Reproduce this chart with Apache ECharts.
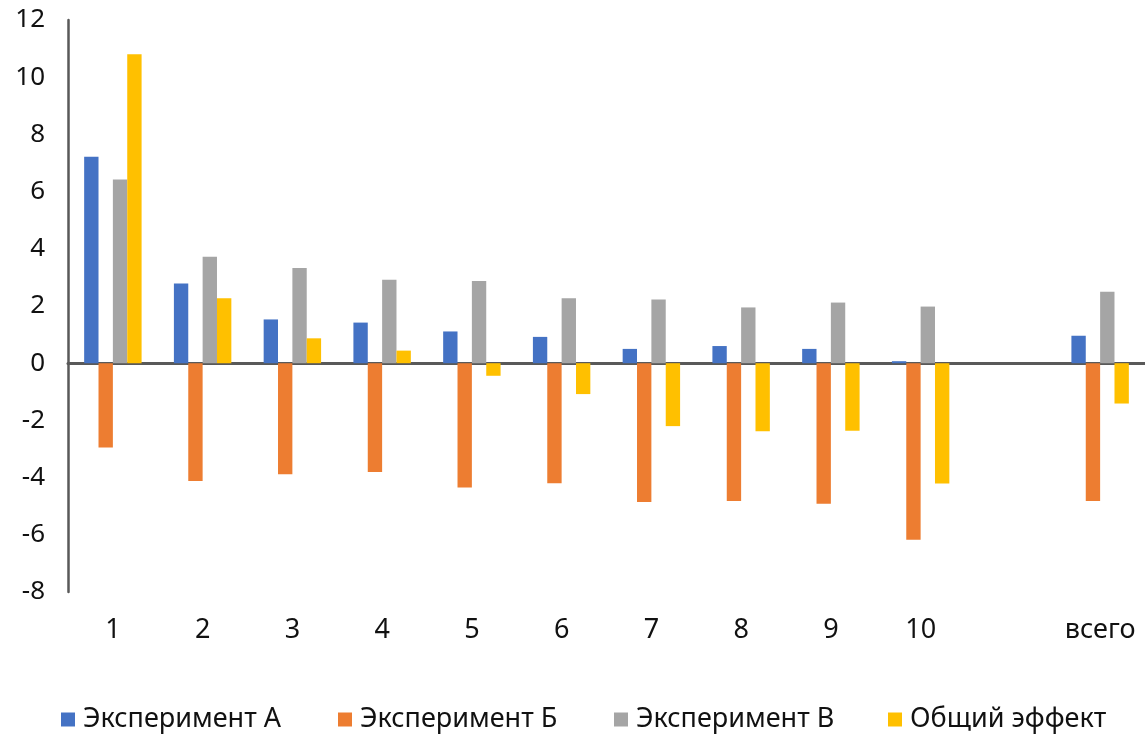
<!DOCTYPE html>
<html><head><meta charset="utf-8">
<script src="https://cdn.jsdelivr.net/npm/echarts@6/dist/echarts.min.js"></script>
<style>html,body{margin:0;padding:0;background:#fff}#c{width:1145px;height:738px}</style>
</head><body><div id="c"></div>
<script>
const categories = ['1','2','3','4','5','6','7','8','9','10','','всего'];
const seriesNames = ['Эксперимент А','Эксперимент Б','Эксперимент В','Общий эффект'];
const expA = [7.22, 2.79, 1.53, 1.42, 1.11, 0.92, 0.50, 0.60, 0.50, 0.07, null, 0.96];
const expB = [-2.95, -4.12, -3.88, -3.80, -4.35, -4.20, -4.85, -4.82, -4.91, -6.17, null, -4.82];
const expV = [6.42, 3.72, 3.33, 2.92, 2.87, 2.27, 2.23, 1.95, 2.12, 1.98, null, 2.50];
const total = [10.80, 2.27, 0.87, 0.44, -0.44, -1.08, -2.20, -2.38, -2.36, -4.21, null, -1.41];
const yTicks = {min: -8, max: 12, interval: 2};

const colors = ['#4472C4','#ED7D31','#A5A5A5','#FFC000'];
const FONT = 'Noto Sans';
const chart = echarts.init(document.getElementById('c'), null, {renderer:'canvas'});
const legendLefts = [61, 338, 614, 888];
const allData = [expA, expB, expV, total];
chart.setOption({
  animation: false,
  color: colors,
  textStyle: {fontFamily: FONT},
  grid: {left: 68, right: 0, top: 20, bottom: 146, containLabel: false},
  legend: seriesNames.map((n, i) => ({
    data: [n], left: legendLefts[i], top: 706, padding: 0,
    itemWidth: 14, itemHeight: 14, itemGap: 0,
    icon: 'rect',
    textStyle: {fontFamily: FONT, fontSize: 27, color: '#111', padding: [0,0,0,3]}
  })),
  xAxis: [{
    type: 'category', data: categories, position: 'bottom',
    axisLine: {show: true, onZero: true, lineStyle: {color: '#595959', width: 3}},
    axisTick: {show: false}, axisLabel: {show: false}, splitLine: {show: false}
  }, {
    type: 'category', data: categories, position: 'bottom',
    axisLine: {show: false, onZero: false}, axisTick: {show: false},
    axisLabel: {show: true, interval: 0, fontFamily: FONT, fontSize: 27, color: '#111', margin: 25},
    splitLine: {show: false}
  }],
  yAxis: {
    type: 'value', min: yTicks.min, max: yTicks.max, interval: yTicks.interval,
    axisLine: {show: true, lineStyle: {color: '#595959', width: 2.5}},
    axisTick: {show: false}, splitLine: {show: false},
    axisLabel: {fontFamily: FONT, fontSize: 26, color: '#111', margin: 23}
  },
  series: seriesNames.map((n, i) => ({
    name: n, type: 'bar', data: allData[i], xAxisIndex: 0,
    barGap: '0%', barCategoryGap: '36%'
  }))
});
</script></body></html>
